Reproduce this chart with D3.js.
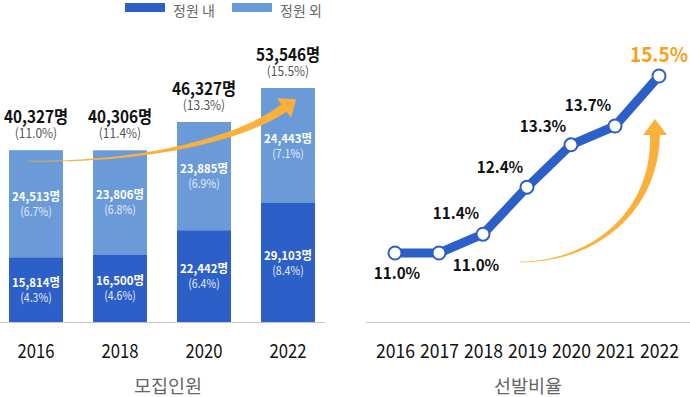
<!DOCTYPE html>
<html>
<head>
<meta charset="utf-8">
<script src="https://cdn.jsdelivr.net/npm/d3@7"></script>
<style>
html,body{margin:0;padding:0;background:#fff;}
svg{display:block;font-family:"Noto Sans CJK KR","Noto Sans",sans-serif;}
</style>
</head>
<body>
<svg id="chart" width="690" height="397"></svg>
<script>
// ---- data ----
const seriesNames = ["정원 내", "정원 외"];
const barYears = ["2016", "2018", "2020", "2022"];
const insideCounts = [15814, 16500, 22442, 29103];
const outsideCounts = [24513, 23806, 23885, 24443];
const insidePct = [4.3, 4.6, 6.4, 8.4];
const outsidePct = [6.7, 6.8, 6.9, 7.1];
const totalPct = [11.0, 11.4, 13.3, 15.5];
const rateYears = ["2016", "2017", "2018", "2019", "2020", "2021", "2022"];
const rates = [11.0, 11.0, 11.4, 12.4, 13.3, 13.7, 15.5];
const leftTitle = "모집인원";
const rightTitle = "선발비율";

// ---- style ----
const DARK = "#2d5fc8", LIGHT = "#6a9bd8", ORANGE = "#fbb03b", ORANGE_TXT = "#f9a11b";
const svg = d3.select("#chart");
const fmt = d3.format(",");
const pctFmt = d3.format(".1f");

function condense(sel, f) {
  sel.each(function () {
    const w = this.getComputedTextLength();
    d3.select(this).attr("textLength", w * f).attr("lengthAdjust", "spacingAndGlyphs");
  });
}

// ---- legend ----
const legend = svg.append("g");
const legX = [125, 232];
seriesNames.forEach((n, i) => {
  legend.append("rect").attr("x", legX[i]).attr("y", 3).attr("width", 40).attr("height", 9)
    .attr("fill", i === 0 ? DARK : LIGHT);
  legend.append("text").attr("x", legX[i] + 48).attr("y", 15.5).attr("font-size", 14)
    .attr("fill", "#666").text(n);
});

// ---- left chart: stacked bars ----
const totals = insideCounts.map((v, i) => v + outsideCounts[i]);
const xB = d3.scaleBand().domain(barYears).range([-6, 330]).paddingInner(30 / 84).paddingOuter(15 / 84);
const yB = d3.scaleLinear()
  .domain([0, d3.max(insideCounts), d3.max(totals)])
  .range([322, 203, 88]);

const gL = svg.append("g");
barYears.forEach((yr, i) => {
  const x = xB(yr), w = xB.bandwidth();
  const yIn = yB(insideCounts[i]);
  const yTot = yB(totals[i]);
  gL.append("rect").attr("x", x).attr("width", w).attr("y", yTot).attr("height", yIn - yTot).attr("fill", LIGHT);
  gL.append("rect").attr("x", x).attr("width", w).attr("y", yIn).attr("height", yB(0) - yIn).attr("fill", DARK);
});

// axis line
gL.append("line").attr("x1", 0).attr("x2", 325).attr("y1", 322.5).attr("y2", 322.5).attr("stroke", "#c8c8c8");

// tapered arrow helper
function arrowPath(P, w0, w1, headLen, headHalf) {
  const N = 50, L = [], R = [];
  const bez = t => {
    const u = 1 - t;
    return [
      u*u*u*P[0][0] + 3*u*u*t*P[1][0] + 3*u*t*t*P[2][0] + t*t*t*P[3][0],
      u*u*u*P[0][1] + 3*u*u*t*P[1][1] + 3*u*t*t*P[2][1] + t*t*t*P[3][1]
    ];
  };
  const der = t => {
    const u = 1 - t;
    return [
      3*u*u*(P[1][0]-P[0][0]) + 6*u*t*(P[2][0]-P[1][0]) + 3*t*t*(P[3][0]-P[2][0]),
      3*u*u*(P[1][1]-P[0][1]) + 6*u*t*(P[2][1]-P[1][1]) + 3*t*t*(P[3][1]-P[2][1])
    ];
  };
  let endN, endT;
  for (let k = 0; k <= N; k++) {
    const t = k / N, p = bez(t), d = der(t);
    const len = Math.hypot(d[0], d[1]);
    const tx = d[0] / len, ty = d[1] / len;
    const nx = -ty, ny = tx;
    const w = (w0 + (w1 - w0) * Math.pow(t, 1.4)) / 2;
    L.push([p[0] + nx * w, p[1] + ny * w]);
    R.push([p[0] - nx * w, p[1] - ny * w]);
    if (k === N) { endN = [nx, ny]; endT = [tx, ty]; }
  }
  const e = P[3];
  const head = [
    [e[0] + endN[0] * headHalf, e[1] + endN[1] * headHalf],
    [e[0] + endT[0] * headLen, e[1] + endT[1] * headLen],
    [e[0] - endN[0] * headHalf, e[1] - endN[1] * headHalf]
  ];
  const pts = L.concat(head, R.reverse());
  return "M" + pts.map(p => p[0].toFixed(2) + "," + p[1].toFixed(2)).join("L") + "Z";
}

gL.append("path")
  .attr("d", arrowPath([[28, 161], [140, 163], [240, 140], [284, 108]], 0.6, 9, 15, 12))
  .attr("fill", ORANGE);

// labels in bars
barYears.forEach((yr, i) => {
  const cx = xB(yr) + xB.bandwidth() / 2;
  const yIn = yB(insideCounts[i]), yTot = yB(totals[i]), y0 = yB(0);
  const cOut = (yIn + yTot) / 2, cIn = (y0 + yIn) / 2;
  [[cOut, outsideCounts[i], outsidePct[i]], [cIn, insideCounts[i], insidePct[i]]].forEach(([c, v, p]) => {
    gL.append("text").attr("x", cx).attr("y", c - 3).attr("text-anchor", "middle")
      .attr("font-size", 12).attr("font-weight", 700).attr("fill", "#fff").text(fmt(v) + "명")
      .call(condense, 0.95);
    gL.append("text").attr("x", cx).attr("y", c + 12).attr("text-anchor", "middle")
      .attr("font-size", 12).attr("fill", "#e3eaf7").text("(" + pctFmt(p) + "%)")
      .call(condense, 0.88);
  });
  // top labels
  gL.append("text").attr("x", cx).attr("y", yTot - 27).attr("text-anchor", "middle")
    .attr("font-size", 17).attr("font-weight", 700).attr("fill", "#111").text(fmt(totals[i]) + "명")
    .call(condense, 0.9);
  gL.append("text").attr("x", cx).attr("y", yTot - 12).attr("text-anchor", "middle")
    .attr("font-size", 13).attr("fill", "#555").text("(" + pctFmt(totalPct[i]) + "%)")
    .call(condense, 0.92);
});

// x axis labels
const axL = gL.append("g").attr("transform", "translate(0,322)")
  .call(d3.axisBottom(xB).tickSize(0).tickPadding(0));
axL.select(".domain").remove();
axL.selectAll("text").attr("dy", null).attr("y", 36).attr("font-size", 19)
  .attr("font-family", "'Noto Sans CJK KR',sans-serif").attr("fill", "#111")
  .attr("textLength", 37).attr("lengthAdjust", "spacingAndGlyphs");

gL.append("text").attr("x", 168).attr("y", 393).attr("text-anchor", "middle")
  .attr("font-size", 18.5).attr("fill", "#666").text(leftTitle);

// ---- right chart: line ----
const gR = svg.append("g");
const xP = d3.scalePoint().domain(rateYears).range([395, 659]);
const yP = d3.scaleLinear().domain([11.0, 13.7, 15.5]).range([253, 126, 76]);

gR.append("line").attr("x1", 366).attr("x2", 690).attr("y1", 322.5).attr("y2", 322.5).attr("stroke", "#c8c8c8");

gR.append("path")
  .attr("d", arrowPath([[520, 262], [590, 262], [655, 215], [655, 135]], 0.6, 10, 16, 12))
  .attr("fill", ORANGE);

const line = d3.line().x((d, i) => xP(rateYears[i])).y(d => yP(d));
gR.append("path").datum(rates).attr("d", line).attr("fill", "none")
  .attr("stroke", DARK).attr("stroke-width", 9).attr("stroke-linejoin", "round");

gR.selectAll("circle.pt").data(rates).join("circle").attr("class", "pt")
  .attr("cx", (d, i) => xP(rateYears[i])).attr("cy", d => yP(d)).attr("r", 6.5)
  .attr("fill", "#fff").attr("stroke", DARK).attr("stroke-width", 2);

const labelOffsets = [[2, 26], [37, 18], [-27, -15], [-27, -14], [-28, -13], [-27, -15], [0, -14]];
rates.forEach((v, i) => {
  const last = i === rates.length - 1;
  gR.append("text")
    .attr("x", xP(rateYears[i]) + labelOffsets[i][0])
    .attr("y", yP(v) + labelOffsets[i][1])
    .attr("text-anchor", "middle")
    .attr("font-size", last ? 20 : 16).attr("font-weight", 700)
    .attr("fill", last ? ORANGE_TXT : "#111")
    .text(pctFmt(v) + "%")
    .call(condense, 0.95);
});

const axR = gR.append("g").attr("transform", "translate(0,322)")
  .call(d3.axisBottom(xP).tickSize(0).tickPadding(0));
axR.select(".domain").remove();
axR.selectAll("text").attr("dy", null).attr("y", 36).attr("font-size", 19)
  .attr("font-family", "'Noto Sans CJK KR',sans-serif").attr("fill", "#111")
  .attr("textLength", 39).attr("lengthAdjust", "spacingAndGlyphs");

gR.append("text").attr("x", 528).attr("y", 393).attr("text-anchor", "middle")
  .attr("font-size", 18.5).attr("fill", "#666").text(rightTitle);
</script>
</body>
</html>
